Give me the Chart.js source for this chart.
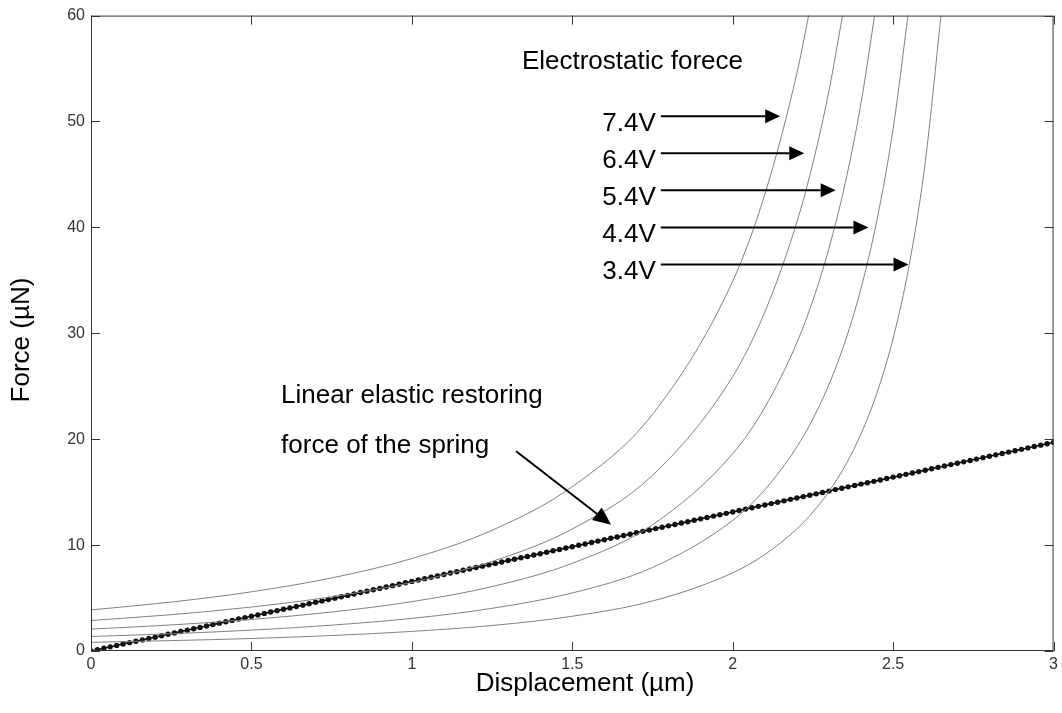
<!DOCTYPE html>
<html>
<head>
<meta charset="utf-8">
<script src="https://cdn.jsdelivr.net/npm/chart.js@4.4.1/dist/chart.umd.min.js"></script>
<style>
    html, body { margin: 0; padding: 0; background: #ffffff; }
    #wrap { width: 1062px; height: 713px; }
</style>
</head>
<body>
<div id="wrap"><canvas id="forceChart" width="1062" height="713"></canvas></div>
<script>
// tick values
const xTicks = [0, 0.5, 1, 1.5, 2, 2.5, 3];
const yTicks = [0, 10, 20, 30, 40, 50, 60];

// electrostatic force curves (uN) read at these displacements (um)
const curveX = [0, 0.25, 0.5, 0.75, 1, 1.25, 1.5, 1.75, 2, 2.1, 2.2, 2.25, 2.3, 2.35, 2.4, 2.45, 2.5, 2.55, 2.6, 2.65];
const force74 = [3.88, 4.62, 5.59, 6.90, 8.73, 11.40, 15.52, 22.35, 34.92, 43.11, 54.56, 62.08];
const force64 = [2.88, 3.43, 4.15, 5.12, 6.48, 8.46, 11.52, 16.59, 25.92, 32.00, 40.50, 46.08, 52.90, 61.34];
const force54 = [2.07, 2.46, 2.98, 3.68, 4.66, 6.08, 8.28, 11.92, 18.63, 23.00, 29.11, 33.12, 38.02, 44.09, 51.75, 61.59];
const force44 = [1.37, 1.63, 1.97, 2.44, 3.08, 4.03, 5.48, 7.89, 12.33, 15.22, 19.27, 21.92, 25.16, 29.18, 34.25, 40.76, 49.32, 60.89];
const force34 = [0.82, 0.98, 1.18, 1.46, 1.85, 2.41, 3.28, 4.72, 7.38, 9.11, 11.53, 13.12, 15.06, 17.47, 20.50, 24.40, 29.52, 36.44, 46.13, 60.25];

// spring restoring force (dotted line)
const springX = [0, 0.02, 0.04, 0.06, 0.08, 0.1, 0.12, 0.14, 0.16, 0.18, 0.2, 0.22, 0.24, 0.26, 0.28, 0.3, 0.32, 0.34, 0.36, 0.38,
    0.4, 0.42, 0.44, 0.46, 0.48, 0.5, 0.52, 0.54, 0.56, 0.58, 0.6, 0.62, 0.64, 0.66, 0.68, 0.7, 0.72, 0.74, 0.76, 0.78,
    0.8, 0.82, 0.84, 0.86, 0.88, 0.9, 0.92, 0.94, 0.96, 0.98, 1, 1.02, 1.04, 1.06, 1.08, 1.1, 1.12, 1.14, 1.16, 1.18,
    1.2, 1.22, 1.24, 1.26, 1.28, 1.3, 1.32, 1.34, 1.36, 1.38, 1.4, 1.42, 1.44, 1.46, 1.48, 1.5, 1.52, 1.54, 1.56, 1.58,
    1.6, 1.62, 1.64, 1.66, 1.68, 1.7, 1.72, 1.74, 1.76, 1.78, 1.8, 1.82, 1.84, 1.86, 1.88, 1.9, 1.92, 1.94, 1.96, 1.98,
    2, 2.02, 2.04, 2.06, 2.08, 2.1, 2.12, 2.14, 2.16, 2.18, 2.2, 2.22, 2.24, 2.26, 2.28, 2.3, 2.32, 2.34, 2.36, 2.38,
    2.4, 2.42, 2.44, 2.46, 2.48, 2.5, 2.52, 2.54, 2.56, 2.58, 2.6, 2.62, 2.64, 2.66, 2.68, 2.7, 2.72, 2.74, 2.76, 2.78,
    2.8, 2.82, 2.84, 2.86, 2.88, 2.9, 2.92, 2.94, 2.96, 2.98, 3];
const springY = [0, 0.13, 0.26, 0.39, 0.53, 0.66, 0.79, 0.92, 1.05, 1.18, 1.31, 1.44, 1.58, 1.71, 1.84, 1.97, 2.10, 2.23, 2.36, 2.50,
    2.63, 2.76, 2.89, 3.02, 3.15, 3.28, 3.41, 3.55, 3.68, 3.81, 3.94, 4.07, 4.20, 4.33, 4.47, 4.60, 4.73, 4.86, 4.99, 5.12,
    5.25, 5.38, 5.52, 5.65, 5.78, 5.91, 6.04, 6.17, 6.30, 6.44, 6.57, 6.70, 6.83, 6.96, 7.09, 7.22, 7.36, 7.49, 7.62, 7.75,
    7.88, 8.01, 8.14, 8.27, 8.41, 8.54, 8.67, 8.80, 8.93, 9.06, 9.19, 9.33, 9.46, 9.59, 9.72, 9.85, 9.98, 10.11, 10.24, 10.38,
    10.51, 10.64, 10.77, 10.90, 11.03, 11.16, 11.30, 11.43, 11.56, 11.69, 11.82, 11.95, 12.08, 12.21, 12.35, 12.48, 12.61, 12.74, 12.87, 13.00,
    13.13, 13.27, 13.40, 13.53, 13.66, 13.79, 13.92, 14.05, 14.18, 14.32, 14.45, 14.58, 14.71, 14.84, 14.97, 15.10, 15.24, 15.37, 15.50, 15.63,
    15.76, 15.89, 16.02, 16.15, 16.29, 16.42, 16.55, 16.68, 16.81, 16.94, 17.07, 17.21, 17.34, 17.47, 17.60, 17.73, 17.86, 17.99, 18.12, 18.26,
    18.39, 18.52, 18.65, 18.78, 18.91, 19.04, 19.18, 19.31, 19.44, 19.57, 19.70];

// annotation labels
const voltLabels = ['7.4V', '6.4V', '5.4V', '4.4V', '3.4V'];
const voltArrowY = [50.5, 47.0, 43.5, 40.0, 36.5];
const voltArrowTipX = [2.148, 2.223, 2.321, 2.423, 2.548];
const voltArrowStartX = 1.776;

const FONT = '"Liberation Sans", Arial, sans-serif';

function pairUp(xs, ys) {
    return ys.map((y, i) => ({ x: xs[i], y: y }));
}

function curveSet(label, ys) {
    return {
        label: label,
        data: pairUp(curveX, ys),
        showLine: true,
        borderColor: '#808080',
        borderWidth: 1,
        pointRadius: 0,
        cubicInterpolationMode: 'monotone'
    };
}

function drawArrow(ctx, x1, y1, x2, y2, headLen, headHalf, width) {
    const ang = Math.atan2(y2 - y1, x2 - x1);
    const bx = x2 - headLen * Math.cos(ang);
    const by = y2 - headLen * Math.sin(ang);
    ctx.strokeStyle = '#000';
    ctx.fillStyle = '#000';
    ctx.lineWidth = width;
    ctx.beginPath();
    ctx.moveTo(x1, y1);
    ctx.lineTo(bx, by);
    ctx.stroke();
    ctx.beginPath();
    ctx.moveTo(x2, y2);
    ctx.lineTo(bx + headHalf * Math.sin(ang), by - headHalf * Math.cos(ang));
    ctx.lineTo(bx - headHalf * Math.sin(ang), by + headHalf * Math.cos(ang));
    ctx.closePath();
    ctx.fill();
}

// box, inward ticks, titles and annotations
const decorPlugin = {
    id: 'decor',
    afterDatasetsDraw(chart) {
        const ctx = chart.ctx;
        const area = chart.chartArea;
        const xs = chart.scales.x;
        const ys = chart.scales.y;
        const tick = 9;

        ctx.save();
        ctx.strokeStyle = '#333';
        ctx.lineWidth = 1;
        ctx.strokeRect(area.left + 0.5, area.top + 0.5, area.right - area.left - 1, area.bottom - area.top - 1);
        ctx.beginPath();
        xTicks.forEach(v => {
            const px = Math.round(xs.getPixelForValue(v)) + 0.5;
            ctx.moveTo(px, area.bottom);
            ctx.lineTo(px, area.bottom - tick);
            ctx.moveTo(px, area.top);
            ctx.lineTo(px, area.top + tick);
        });
        yTicks.forEach(v => {
            const py = Math.round(ys.getPixelForValue(v)) + 0.5;
            ctx.moveTo(area.left, py);
            ctx.lineTo(area.left + tick, py);
            ctx.moveTo(area.right, py);
            ctx.lineTo(area.right - tick, py);
        });
        ctx.stroke();

        // electrostatic labels and arrows
        ctx.fillStyle = '#000';
        ctx.font = '26px ' + FONT;
        ctx.textAlign = 'left';
        ctx.textBaseline = 'alphabetic';
        ctx.fillText('Electrostatic forece', xs.getPixelForValue(1.343), ys.getPixelForValue(55.0));

        voltLabels.forEach((lab, i) => {
            const y = ys.getPixelForValue(voltArrowY[i]);
            const x0 = xs.getPixelForValue(voltArrowStartX);
            ctx.fillStyle = '#000';
            ctx.font = '26px ' + FONT;
            ctx.textAlign = 'right';
            ctx.fillText(lab, x0 - 5, y + 15);
            drawArrow(ctx, x0, y, xs.getPixelForValue(voltArrowTipX[i]), y, 15, 7, 2);
        });

        // spring label and arrow
        ctx.fillStyle = '#000';
        ctx.textAlign = 'left';
        ctx.fillText('Linear elastic restoring', xs.getPixelForValue(0.5925), ys.getPixelForValue(23.38));
        ctx.fillText('force of the spring', xs.getPixelForValue(0.5925), ys.getPixelForValue(18.7));
        drawArrow(ctx,
            xs.getPixelForValue(1.325), ys.getPixelForValue(18.87),
            xs.getPixelForValue(1.621), ys.getPixelForValue(11.92), 18, 8, 2);

        // axis titles
        ctx.fillStyle = '#000';
        ctx.font = '26px ' + FONT;
        ctx.textAlign = 'center';
        ctx.fillText('Displacement (\u00b5m)', 585, 691);
        ctx.translate(22, 340);
        ctx.rotate(-Math.PI / 2);
        ctx.textBaseline = 'middle';
        ctx.fillText('Force (\u00b5N)', 0, 0);
        ctx.restore();
    }
};

const ctx = document.getElementById('forceChart');
new Chart(ctx, {
    type: 'scatter',
    data: {
        datasets: [
            curveSet('7.4V', force74),
            curveSet('6.4V', force64),
            curveSet('5.4V', force54),
            curveSet('4.4V', force44),
            curveSet('3.4V', force34),
            {
                label: 'spring',
                data: pairUp(springX, springY),
                showLine: true,
                borderColor: '#000',
                borderWidth: 1.5,
                pointRadius: 2.7,
                pointBackgroundColor: '#111',
                pointBorderColor: '#111',
                pointBorderWidth: 0
            }
        ]
    },
    options: {
        responsive: false,
        animation: false,
        devicePixelRatio: 1,
        layout: { padding: { left: 0, top: 12, right: 7, bottom: 0 } },
        plugins: {
            legend: { display: false },
            tooltip: { enabled: false }
        },
        scales: {
            x: {
                type: 'linear',
                min: 0,
                max: 3,
                afterBuildTicks: s => { s.ticks = xTicks.map(v => ({ value: v })); },
                afterFit: s => { s.height = 62; },
                grid: { display: false, drawTicks: false },
                border: { display: false },
                ticks: {
                    color: '#333',
                    font: { family: FONT, size: 16 },
                    padding: 4,
                    maxRotation: 0,
                    callback: v => String(v)
                }
            },
            y: {
                type: 'linear',
                min: 0,
                max: 60,
                afterBuildTicks: s => { s.ticks = yTicks.map(v => ({ value: v })); },
                afterFit: s => { s.width = 91; },
                grid: { display: false, drawTicks: false },
                border: { display: false },
                ticks: {
                    color: '#333',
                    font: { family: FONT, size: 16 },
                    padding: 6,
                    callback: v => String(v)
                }
            }
        }
    },
    plugins: [decorPlugin]
});
</script>
</body>
</html>
